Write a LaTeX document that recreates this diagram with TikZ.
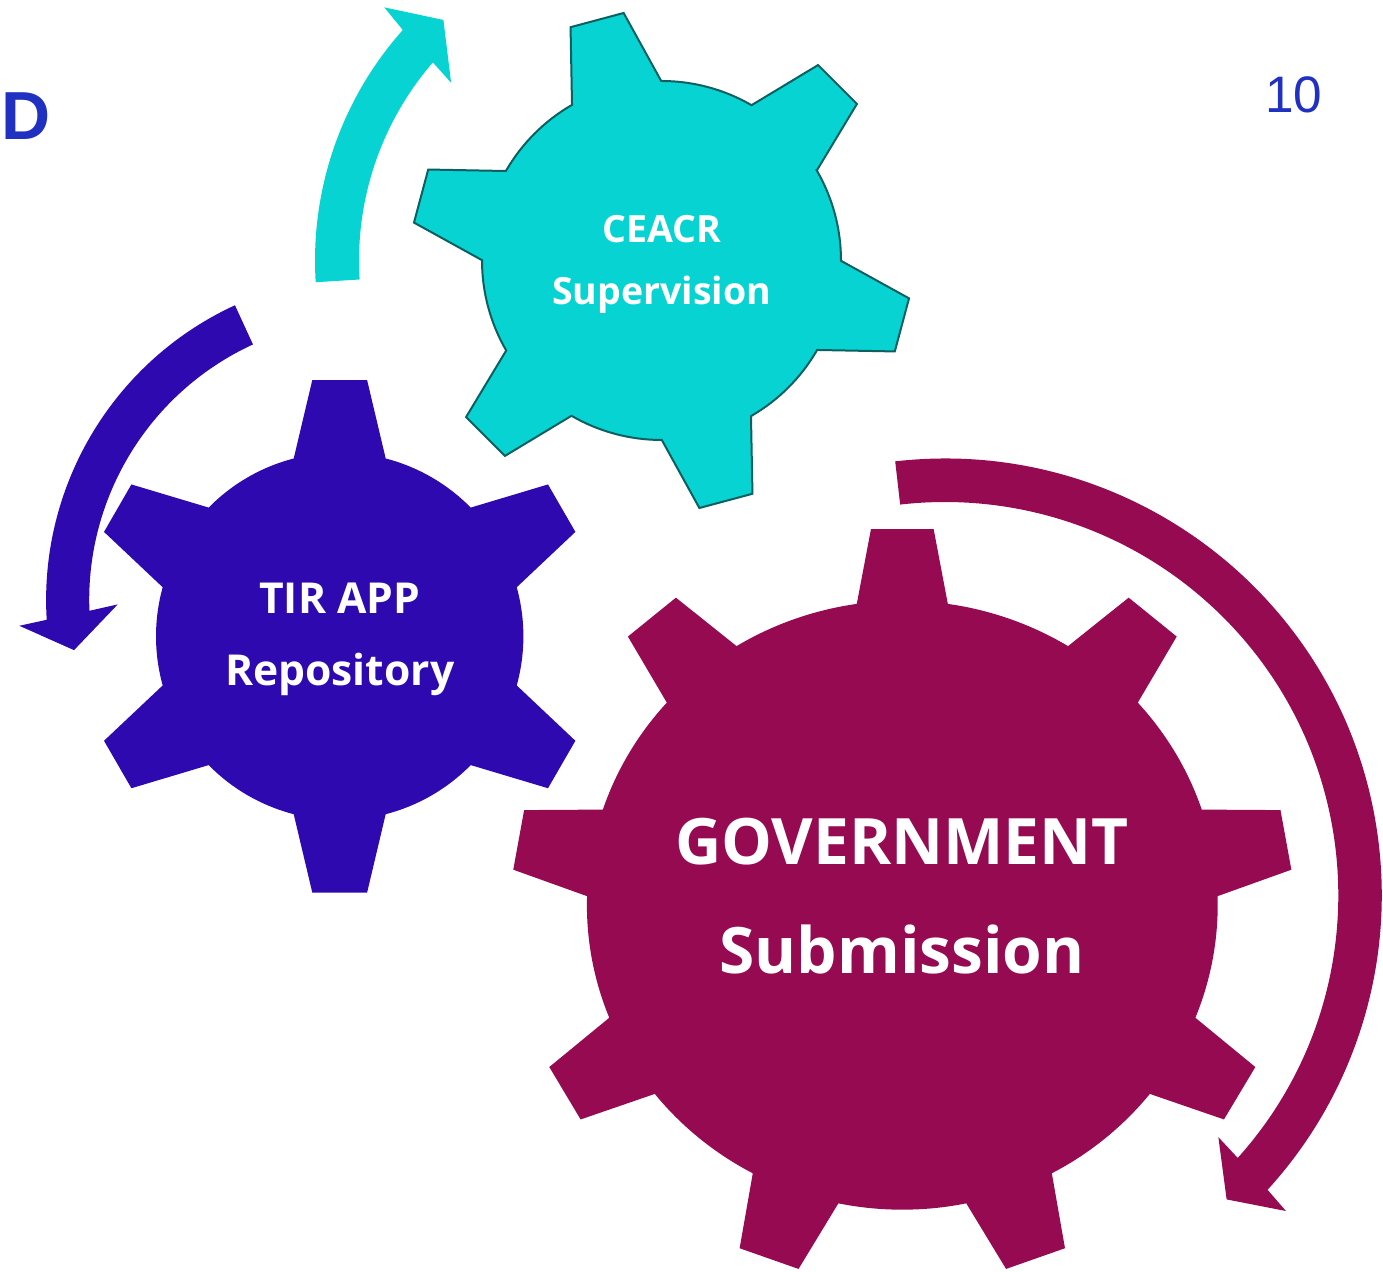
\documentclass[tikz,border=0pt]{standalone}
\usepackage{fontspec}
\newfontfamily\labfont{Open Sans}
\newfontfamily\arialfont{Liberation Sans}
\definecolor{gcyan}{RGB}{7,211,211}
\definecolor{gcyanline}{RGB}{14,95,95}
\definecolor{gblue}{RGB}{46,9,176}
\definecolor{gmag}{RGB}{150,10,82}
\definecolor{txtblue}{RGB}{32,48,192}
\begin{document}
\begin{tikzpicture}[x=1pt,y=1pt,
  gearlabel/.style={text=white, align=center, anchor=base, inner sep=0pt},
  cornertext/.style={text=txtblue, anchor=base west, inner sep=0pt}]
\useasboundingbox (0,0) rectangle (1383,1271);
\fill[white] (0,0) rectangle (1383,1271);

\coordinate (cyanc) at (661.5,1010.5);
\coordinate (bluec) at (339.7,634.65);
\coordinate (magc) at (902.3,365.8);
\coordinate (cyanarc) at (661.5,1010.5);
\coordinate (bluearc) at (370.5,671);
\coordinate (magarc) at (945,375.7);

% ---- arrows ----
\begin{scope}[shift={(cyanarc)}]
\fill[gcyan] (183.6:346.5) arc[start angle=183.6, end angle=138.3, radius=346.5]
  -- (137.6:375.4) -- (132.2:324.7) -- (139.8:275.5) -- (139.1:302.5)
  arc[start angle=139.1, end angle=183.6, radius=302.5] -- cycle;
\end{scope}
\begin{scope}[shift={(bluearc)}]
\fill[gblue] (114.7:324.4) arc[start angle=114.7, end angle=183.5, radius=324.4]
  -- (184.2:352.1) -- (189.6:300.7) -- (181:252.8) -- (182.2:281.3)
  arc[start angle=182.2, end angle=114.7, radius=281.3] -- cycle;
\end{scope}
\begin{scope}[shift={(magarc)}]
\fill[gmag] (96.55:436.8) arc[start angle=96.55, end angle=-42.4, radius=436.8]
  -- (-42.8:464.7) -- (-47.2:414.5) -- (-41.5:365) -- (-41.9:393.3)
  arc[start angle=-41.9, end angle=96.55, radius=393.3] -- cycle;
\end{scope}

% ---- gears ----
\begin{scope}[shift={(cyanc)}]
\filldraw[fill=gcyan, draw=gcyanline, line width=2pt] ({45-14.9}:179.5)
  \foreach \k in {0,...,5}{
    -- ({45+60*\k-6.3}:250.4) -- ({45+60*\k+6.3}:250.4) -- ({45+60*\k+14.9}:179.5)
    arc[start angle={45+60*\k+14.9}, delta angle=30.2, radius=179.5]
  } -- cycle;
\end{scope}
\begin{scope}[shift={(bluec)}]
\fill[gblue] ({90-14.5}:183.7)
  \foreach \k in {0,...,5}{
    -- ({90+60*\k-6.1}:257.8) -- ({90+60*\k+6.1}:257.8) -- ({90+60*\k+14.5}:183.7)
    arc[start angle={90+60*\k+14.5}, delta angle=31, radius=183.7]
  } -- cycle;
\end{scope}
\begin{scope}[shift={(magc)}, xscale=1.0358]
\fill[gmag] ({90-8.3}:304.5)
  \foreach \k in {0,...,8}{
    -- ({90+40*\k-4.6}:377.3) -- ({90+40*\k+4.6}:377.3) -- ({90+40*\k+8.3}:304.5)
    arc[start angle={90+40*\k+8.3}, delta angle=23.4, radius=304.5]
  } -- cycle;
\end{scope}

% ---- labels (base anchor = baseline of last line) ----
\node[gearlabel, font=\labfont\bfseries\fontsize{37.5}{61.7}\selectfont] (ceacr) at (661.5,966.7) {CEACR\\Supervision};
\node[gearlabel, font=\labfont\bfseries\fontsize{42.6}{72.6}\selectfont] (tir) at (339.7,585) {TIR APP\\Repository};
\node[gearlabel, font=\labfont\bfseries\fontsize{64}{109}\selectfont] (gov) at (902,297) {GOVERNMENT\\Submission};

\node[cornertext, font=\arialfont\bfseries\fontsize{68}{80}\selectfont] (dmark) at (1.7,1131.7) {D};
\node[cornertext, font=\arialfont\fontsize{51.3}{60}\selectfont] (pnum) at (1265,1158.3) {10};
\end{tikzpicture}
\end{document}
